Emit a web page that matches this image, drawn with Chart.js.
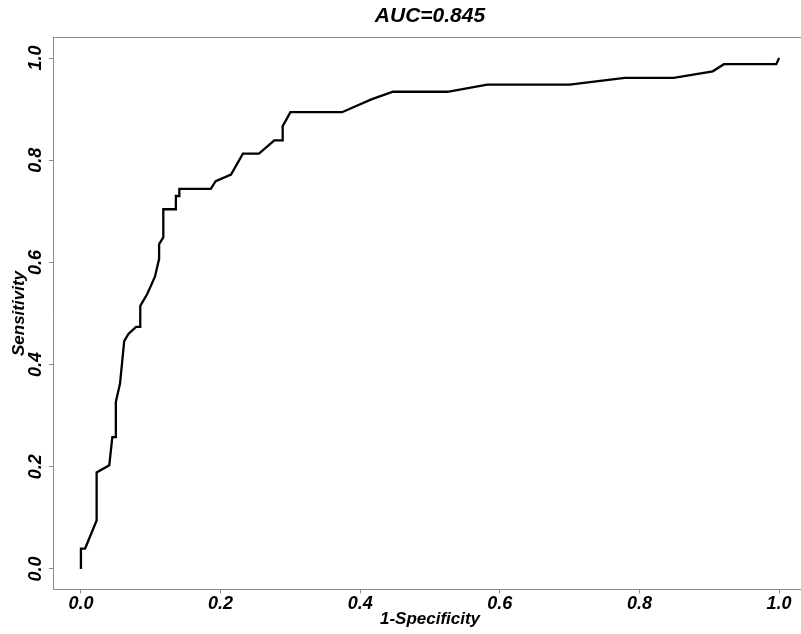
<!DOCTYPE html>
<html>
<head>
<meta charset="utf-8">
<script src="https://cdn.jsdelivr.net/npm/chart.js@4"></script>
<style>
  html, body { margin: 0; padding: 0; background: #fff; overflow: hidden; }
  #wrap { width: 807px; height: 634px; }
</style>
</head>
<body>
<div id="wrap"><canvas id="rocChart" width="807" height="634"></canvas></div>
<script>
  // ROC curve
  const fpr = [0, 0, 0.006, 0.0225, 0.0225, 0.0406, 0.045, 0.050, 0.050, 0.056,
    0.062, 0.068, 0.079, 0.085, 0.085, 0.095, 0.106, 0.112, 0.112, 0.118,
    0.118, 0.136, 0.136, 0.141, 0.141, 0.186, 0.193, 0.215, 0.232, 0.255,
    0.277, 0.289, 0.289, 0.294, 0.300, 0.374, 0.416, 0.447, 0.525, 0.582,
    0.700, 0.779, 0.849, 0.905, 0.921, 0.996, 1.0];
  const tpr = [0, 0.040, 0.040, 0.095, 0.189, 0.203, 0.258, 0.258, 0.327, 0.363,
    0.446, 0.460, 0.474, 0.474, 0.515, 0.538, 0.572, 0.607, 0.636, 0.649,
    0.704, 0.704, 0.730, 0.730, 0.744, 0.744, 0.759, 0.772, 0.813, 0.813,
    0.839, 0.839, 0.867, 0.879, 0.894, 0.894, 0.919, 0.934, 0.934, 0.948,
    0.948, 0.961, 0.961, 0.974, 0.988, 0.988, 1.0];
  const tickVals = [0, 0.2, 0.4, 0.6, 0.8, 1.0];
  const titulo = 'AUC=0.845';

  const gris = '#8c8c8c';
  const fuente = (size) => ({ family: '"Liberation Sans", Arial, sans-serif', size: size, weight: 'bold', style: 'italic' });
  const ponerTicks = (s) => { s.ticks = tickVals.map(v => ({ value: v })); };

  new Chart(document.getElementById('rocChart').getContext('2d'), {
    type: 'line',
    data: {
      datasets: [{
        data: fpr.map((x, i) => ({ x: x, y: tpr[i] })),
        borderColor: '#000',
        borderWidth: 2.3,
        pointRadius: 0,
        tension: 0,
        fill: false
      }]
    },
    options: {
      responsive: false,
      animation: false,
      layout: { padding: 0 },
      plugins: { legend: { display: false }, tooltip: { enabled: false }, title: { display: false } },
      scales: {
        x: {
          type: 'linear', position: 'bottom', min: -0.04, max: 1.04,
          afterBuildTicks: ponerTicks,
          afterFit: (s) => { s.height = 44.6; },
          grid: { drawOnChartArea: false, tickLength: 4, tickColor: gris },
          border: { color: gris, width: 1 },
          ticks: { color: '#000', font: fuente(18), padding: 0, maxRotation: 0, autoSkip: false,
                   callback: v => v.toFixed(1) },
          title: { display: true, text: '1-Specificity', color: '#000', font: fuente(17), padding: { top: 0, bottom: 4 } }
        },
        x2: {
          type: 'linear', position: 'top', min: -0.04, max: 1.04,
          afterFit: (s) => { s.height = 37.6; },
          grid: { drawOnChartArea: false, drawTicks: false, tickLength: 0 },
          border: { color: gris, width: 1 },
          ticks: { display: false },
          title: { display: true, text: titulo, color: '#000', font: fuente(21), padding: { top: 3.4, bottom: 0 } }
        },
        y: {
          type: 'linear', min: -0.04, max: 1.04,
          afterBuildTicks: ponerTicks,
          afterFit: (s) => { s.width = 53; },
          grid: { drawOnChartArea: false, tickLength: 4, tickColor: gris },
          border: { color: gris, width: 1 },
          ticks: { color: '#000', font: fuente(18), padding: 0, minRotation: 90, maxRotation: 90,
                   crossAlign: 'center', autoSkip: false, callback: v => v.toFixed(1) },
          title: { display: true, text: 'Sensitivity', color: '#000', font: fuente(17), padding: { top: 9, bottom: 0 } }
        }
      }
    }
  });
</script>
</body>
</html>
